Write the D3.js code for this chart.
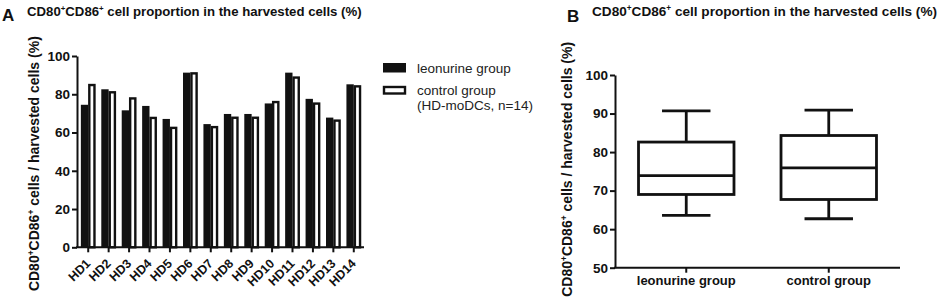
<!DOCTYPE html>
<html>
<head>
<meta charset="utf-8">
<script src="https://cdn.jsdelivr.net/npm/d3@7"></script>
<style>
  body { margin: 0; background: #fff; }
  svg { display: block; font-family: "Liberation Sans", Arial, sans-serif; }
</style>
</head>
<body>
<svg id="chart" width="941" height="302"></svg>
<script>
// panel A – per donor values (%)
const donors = ['HD1', 'HD2', 'HD3', 'HD4', 'HD5', 'HD6', 'HD7', 'HD8', 'HD9', 'HD10', 'HD11', 'HD12', 'HD13', 'HD14'];
const seriesNames = ['leonurine group', 'control group'];
const leonurine = [74.5, 82.6, 71.6, 73.9, 67.1, 91.3, 64.4, 69.7, 69.7, 75.2, 91.3, 77.6, 67.8, 85.2];
const control = [85.4, 81.6, 78.4, 68.2, 63.0, 91.5, 63.4, 68.3, 68.3, 76.5, 89.3, 75.7, 66.8, 84.7];
const barTicks = [0, 20, 40, 60, 80, 100];
const legendLabels = ['leonurine group', 'control group', '(HD-moDCs, n=14)'];

// panel B – box plot summary (%)
const boxGroups = ['leonurine group', 'control group'];
const boxMin = [63.6, 62.7];
const boxQ1 = [69.0, 67.7];
const boxMedian = [73.9, 75.9];
const boxQ3 = [82.6, 84.3];
const boxMax = [90.7, 90.9];
const boxTicks = [50, 60, 70, 80, 90, 100];

const svg = d3.select('#chart');
const INK = '#111';

// "CD80+CD86+" with raised plus signs, then the rest of the text
function cdLabel(textSel, rest) {
  textSel.append('tspan').text('CD80');
  textSel.append('tspan').attr('dy', -5).attr('font-size', '0.6em').text('+');
  textSel.append('tspan').attr('dy', 5).text('CD86');
  textSel.append('tspan').attr('dy', -5).attr('font-size', '0.6em').text('+');
  textSel.append('tspan').attr('dy', 5).text(rest);
}

function styleAxis(g, fontSize) {
  g.select('.domain').attr('stroke', INK).attr('stroke-width', 2);
  g.selectAll('.tick line').attr('stroke', INK).attr('stroke-width', 2);
  g.selectAll('.tick text')
    .attr('fill', INK)
    .attr('font-size', fontSize)
    .attr('font-weight', 'bold')
    .attr('font-family', '"Liberation Sans", Arial, sans-serif');
}

// ---------- Panel A ----------
const a = { left: 78, right: 364, top: 56, bottom: 247.3 };

svg.append('text')
  .attr('x', 2).attr('y', 21)
  .attr('font-size', 17).attr('font-weight', 'bold').attr('fill', INK)
  .text('A');

cdLabel(svg.append('text')
  .attr('x', 27).attr('y', 16)
  .attr('font-size', 13.2).attr('font-weight', 'bold').attr('fill', INK),
' cell proportion in the harvested cells (%)');

const x0 = d3.scaleBand()
  .domain(donors)
  .range([a.left, a.right])
  .paddingInner(0.28)
  .paddingOuter(0.14);

const x1 = d3.scaleBand()
  .domain(seriesNames)
  .range([0, x0.bandwidth()]);

const yA = d3.scaleLinear().domain([0, 100]).range([a.bottom, a.top]);

const barRows = donors.map((d, i) => ({ donor: d, values: [leonurine[i], control[i]] }));

const groups = svg.append('g').attr('class', 'bars')
  .selectAll('g')
  .data(barRows)
  .join('g')
  .attr('transform', (d) => `translate(${x0(d.donor)},0)`);

groups.selectAll('rect')
  .data((d) => d.values.map((v, k) => ({ series: seriesNames[k], value: v, k })))
  .join('rect')
  .attr('x', (d) => x1(d.series) + (d.k === 1 ? 1.1 : 0))
  .attr('y', (d) => yA(d.value) + (d.k === 1 ? 1.1 : 0))
  .attr('width', (d) => x1.bandwidth() - (d.k === 1 ? 2.2 : 0))
  .attr('height', (d) => yA(0) - yA(d.value) - (d.k === 1 ? 1.1 : 0))
  .attr('fill', (d) => (d.k === 0 ? INK : '#fff'))
  .attr('stroke', (d) => (d.k === 1 ? INK : 'none'))
  .attr('stroke-width', (d) => (d.k === 1 ? 2.4 : 0));

const yAxisA = svg.append('g')
  .attr('transform', `translate(${a.left - 1},0)`)
  .call(d3.axisLeft(yA).tickValues(barTicks).tickSize(5).tickPadding(2).tickSizeOuter(0));
styleAxis(yAxisA, 13.5);

const xAxisA = svg.append('g')
  .attr('transform', `translate(0,${a.bottom})`)
  .call(d3.axisBottom(x0).tickSize(5).tickSizeOuter(0));
styleAxis(xAxisA, 12.5);
xAxisA.select('.domain').attr('d', `M${a.left - 2},0H${a.right}`);
xAxisA.selectAll('.tick text')
  .attr('x', 0).attr('y', 0).attr('dy', 0)
  .attr('text-anchor', 'end')
  .attr('transform', 'translate(3,17) rotate(-45)');

cdLabel(svg.append('text')
  .attr('transform', `translate(39,${(a.top + a.bottom) / 2 + 12}) rotate(-90)`)
  .attr('text-anchor', 'middle')
  .attr('font-size', 14).attr('font-weight', 'bold').attr('fill', INK),
' cells / harvested cells (%)');

// legend
const legend = svg.append('g').attr('transform', 'translate(383,0)');
legend.append('rect').attr('x', 0).attr('y', 63).attr('width', 23).attr('height', 9.5).attr('fill', INK);
legend.append('rect').attr('x', 1).attr('y', 87).attr('width', 21).attr('height', 6.5)
  .attr('fill', '#fff').attr('stroke', INK).attr('stroke-width', 2.4);
legend.selectAll('text.lg')
  .data(legendLabels)
  .join('text')
  .attr('class', 'lg')
  .attr('x', 34)
  .attr('y', (d, i) => [73, 95, 110][i])
  .attr('font-size', 13.5)
  .attr('fill', '#222')
  .text((d) => d);

// ---------- Panel B ----------
const b = { left: 615, right: 900, top: 75, bottom: 267.7 };

svg.append('text')
  .attr('x', 567).attr('y', 22)
  .attr('font-size', 17).attr('font-weight', 'bold').attr('fill', INK)
  .text('B');

cdLabel(svg.append('text')
  .attr('x', 937).attr('y', 16)
  .attr('text-anchor', 'end')
  .attr('font-size', 13.6).attr('font-weight', 'bold').attr('fill', INK),
' cell proportion in the harvested cells (%)');

const xB = d3.scaleBand().domain(boxGroups).range([b.left, b.right]);
const yB = d3.scaleLinear().domain([50, 100]).range([b.bottom, b.top]);

const boxes = boxGroups.map((g, i) => ({
  group: g, min: boxMin[i], q1: boxQ1[i], median: boxMedian[i], q3: boxQ3[i], max: boxMax[i],
}));

const boxW = xB.bandwidth() * 0.67;
const capW = xB.bandwidth() * 0.34;

const boxG = svg.append('g').attr('class', 'boxes')
  .selectAll('g')
  .data(boxes)
  .join('g')
  .attr('transform', (d) => `translate(${xB(d.group) + xB.bandwidth() / 2},0)`)
  .attr('stroke', INK)
  .attr('stroke-width', 2.8)
  .attr('fill', 'none');

boxG.append('line').attr('x1', 0).attr('x2', 0).attr('y1', (d) => yB(d.max)).attr('y2', (d) => yB(d.q3));
boxG.append('line').attr('x1', 0).attr('x2', 0).attr('y1', (d) => yB(d.q1)).attr('y2', (d) => yB(d.min));
boxG.append('line').attr('x1', -capW / 2).attr('x2', capW / 2).attr('y1', (d) => yB(d.max)).attr('y2', (d) => yB(d.max));
boxG.append('line').attr('x1', -capW / 2).attr('x2', capW / 2).attr('y1', (d) => yB(d.min)).attr('y2', (d) => yB(d.min));
boxG.append('rect')
  .attr('x', -boxW / 2).attr('width', boxW)
  .attr('y', (d) => yB(d.q3)).attr('height', (d) => yB(d.q1) - yB(d.q3))
  .attr('fill', '#fff');
boxG.append('line').attr('x1', -boxW / 2).attr('x2', boxW / 2).attr('y1', (d) => yB(d.median)).attr('y2', (d) => yB(d.median));

const yAxisB = svg.append('g')
  .attr('transform', `translate(${b.left},0)`)
  .call(d3.axisLeft(yB).tickValues(boxTicks).tickSize(5).tickPadding(2).tickSizeOuter(0));
styleAxis(yAxisB, 13.5);

const xAxisB = svg.append('g')
  .attr('transform', `translate(0,${b.bottom})`)
  .call(d3.axisBottom(xB).tickSize(5).tickPadding(3).tickSizeOuter(0));
styleAxis(xAxisB, 13);
xAxisB.select('.domain').attr('d', `M${b.left - 1},0H${b.right}`);

cdLabel(svg.append('text')
  .attr('transform', `translate(572,${(b.top + b.bottom) / 2 - 2}) rotate(-90)`)
  .attr('text-anchor', 'middle')
  .attr('font-size', 14).attr('font-weight', 'bold').attr('fill', INK),
' cells / harvested cells (%)');
</script>
</body>
</html>
